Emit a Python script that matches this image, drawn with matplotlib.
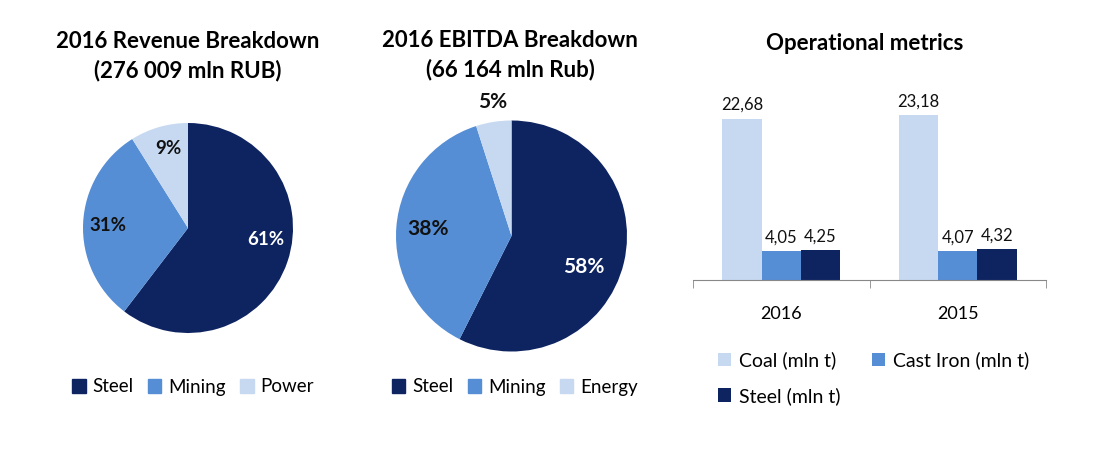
import numpy as np
import matplotlib
matplotlib.use('Agg')
import matplotlib.pyplot as plt
from matplotlib.patches import Patch

plt.rcParams['font.family'] = ['Lato', 'DejaVu Sans']

# data
rev_labels = ['Steel', 'Mining', 'Power']
rev_values = [61, 31, 9]
ebitda_labels = ['Steel', 'Mining', 'Energy']
ebitda_values = [58, 38, 5]

years = ['2016', '2015']
coal = [22.68, 23.18]
cast_iron = [4.05, 4.07]
steel = [4.25, 4.32]

navy = '#0E2461'
mid = '#558ED5'
light = '#C6D9F1'
pie_colors = [navy, mid, light]
txt_colors = ['white', '#111111', '#111111']

W, H = 1120, 467
fig = plt.figure(figsize=(W / 100, H / 100), dpi=100)


def px_axes(left, top, w, h):
    return fig.add_axes([left / W, (H - top - h) / H, w / W, h / H])


def draw_pie(ax, values, label_pos, fs):
    ax.pie(values, colors=pie_colors, startangle=90, counterclock=False,
           radius=1, wedgeprops=dict(linewidth=0))
    for v, (x, y), c in zip(values, label_pos, txt_colors):
        ax.text(x, y, f'{v}%', ha='center', va='center', color=c,
                fontsize=fs, fontweight='bold', clip_on=False)
    ax.set_xlim(-1, 1)
    ax.set_ylim(-1, 1)
    ax.set_aspect('equal')
    ax.axis('off')


leg_kw = dict(loc='center', ncol=3, frameon=False, fontsize=13.5,
              handlelength=0.7, handleheight=0.7, handletextpad=0.35,
              columnspacing=0.8)

# revenue pie
ax1 = px_axes(83, 123, 210, 210)
draw_pie(ax1, rev_values, [(0.74, -0.11), (-0.76, 0.02), (-0.19, 0.76)], 13.5)
fig.text(188 / W, 1 - 56 / H, '2016 Revenue Breakdown\n(276 009 mln RUB)',
         ha='center', va='center', fontsize=16, fontweight='bold',
         linespacing=1.45)
fig.legend([Patch(color=c) for c in pie_colors], rev_labels,
           bbox_to_anchor=(193 / W, 1 - 387 / H), **leg_kw)

# ebitda pie
ax2 = px_axes(396, 120, 231, 232)
draw_pie(ax2, ebitda_values, [(0.63, -0.27), (-0.72, 0.06), (-0.16, 1.16)], 15)
fig.text(510 / W, 1 - 55 / H, '2016 EBITDA Breakdown\n(66 164 mln Rub)',
         ha='center', va='center', fontsize=16, fontweight='bold',
         linespacing=1.45)
fig.legend([Patch(color=c) for c in pie_colors], ebitda_labels,
           bbox_to_anchor=(515 / W, 1 - 387 / H), **leg_kw)

# operational metrics bars
ax3 = px_axes(693, 95, 353, 185)
x = np.arange(len(years))
bw = 0.222
b1 = ax3.bar(x - bw, coal, bw, color=light)
b2 = ax3.bar(x, cast_iron, bw, color=mid)
b3 = ax3.bar(x + bw, steel, bw, color=navy)
for bars in (b1, b2, b3):
    for r in bars:
        ax3.annotate(f'{r.get_height():.2f}'.replace('.', ','),
                     (r.get_x() + r.get_width() / 2, r.get_height()),
                     xytext=(0, 4), textcoords='offset points',
                     ha='center', va='bottom', fontsize=12, color='#111111')
ax3.set_xlim(-0.5, 1.5)
ax3.set_ylim(0, 26)
for s in ('top', 'right', 'left'):
    ax3.spines[s].set_visible(False)
ax3.spines['bottom'].set_color('#888888')
ax3.set_yticks([])
ax3.set_xticks(x)
ax3.set_xticklabels(years, fontsize=13)
ax3.tick_params(axis='x', length=0, pad=19)
ax3.set_xticks([-0.5, 0.5, 1.5], minor=True)
ax3.tick_params(axis='x', which='minor', length=6, color='#888888')
fig.text(865 / W, 1 - 43 / H, 'Operational metrics', ha='center',
         va='center', fontsize=16, fontweight='bold')
fig.legend([b1, b3, b2], ['Coal (mln t)', 'Steel (mln t)', 'Cast Iron (mln t)'],
           loc='upper left', bbox_to_anchor=(700 / W, 1 - 334 / H), ncol=2,
           frameon=False, fontsize=14, handlelength=0.7, handleheight=0.7,
           handletextpad=0.4, columnspacing=1.6, labelspacing=0.9)

fig.savefig('out.png', dpi=100, facecolor='white')
